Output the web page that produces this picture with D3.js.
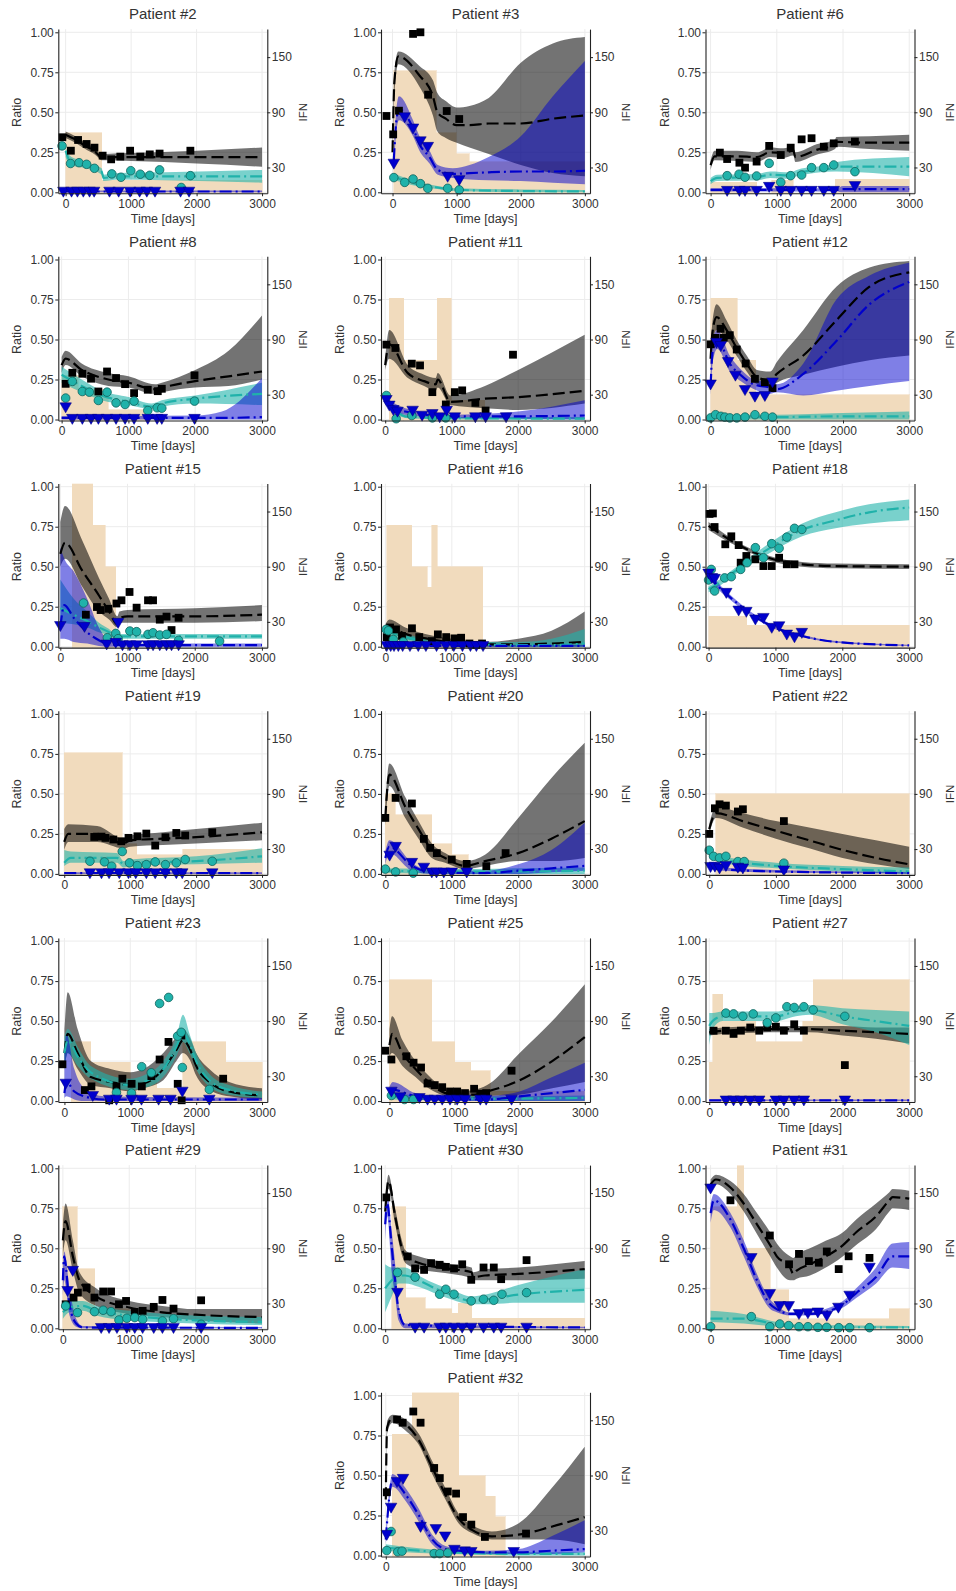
<!DOCTYPE html>
<html>
<head>
<meta charset="utf-8">
<script src="https://cdn.jsdelivr.net/npm/d3@7"></script>
<style>
  body { margin: 0; background: #fff; }
  text { font-family: "Liberation Sans", Arial, sans-serif; }
</style>
</head>
<body>
<div id="chart"></div>
<script>
// Patients shown, in panel order
var patients = [2, 3, 6, 8, 11, 12, 15, 16, 18, 19, 20, 22, 23, 25, 27, 29, 30, 31, 32];

// Tick values
var ratioTicks = [0, 0.25, 0.5, 0.75, 1];
var ifnTicks = [30, 90, 150];
var timeTicks = [0, 1000, 2000, 3000];

// left end of each time axis (days)
var timeStart = {2: -112, 3: -180, 6: -77, 8: -50, 11: -63, 12: -77, 15: -30, 16: -66, 18: -46, 19: -90,
  20: -65, 22: -56, 23: -93, 25: -130, 27: -56, 29: -69, 30: -63, 31: -77, 32: -72};

// IFN dose steps: [start day, end day, dose]
var ifnSteps = {
  2: [[0, 550, 67.5], [550, 3000, 16]],
  3: [[20, 680, 135], [680, 990, 67.5], [990, 1195, 45], [1195, 3000, 36]],
  6: [[0, 700, 14], [920, 1250, 16], [1880, 3000, 17]],
  8: [[0, 250, 51], [250, 700, 36], [700, 1300, 13.5]],
  11: [[60, 280, 135], [280, 780, 67.5], [780, 990, 135], [990, 1500, 24]],
  12: [[0, 400, 135], [400, 680, 67.5], [680, 3000, 30]],
  15: [[180, 480, 180], [480, 665, 135], [665, 825, 90]],
  16: [[20, 395, 135], [395, 630, 90], [630, 695, 67.5], [695, 780, 135], [780, 1465, 90]],
  18: [[0, 570, 36], [570, 3000, 26.5]],
  19: [[0, 880, 135], [880, 1100, 36], [1100, 1800, 24], [1800, 3000, 30]],
  20: [[0, 150, 90], [150, 700, 67.5], [700, 1000, 36], [1000, 1250, 24]],
  22: [[100, 3000, 90]],
  23: [[100, 400, 67.5], [400, 1000, 45], [1000, 1400, 24], [1400, 1800, 17], [1800, 2450, 67.5], [2450, 3000, 45]],
  25: [[0, 650, 135], [650, 1000, 67.5], [1000, 1250, 45], [1250, 1550, 36], [1550, 3000, 13.5]],
  27: [[0, 50, 45], [50, 200, 119], [200, 700, 90], [700, 1400, 67.5], [1400, 1560, 90], [1560, 3000, 135]],
  29: [[0, 220, 135], [220, 480, 67.5], [480, 1000, 24]],
  30: [[100, 310, 135], [310, 600, 36], [600, 1000, 24], [1000, 1100, 19.5], [1100, 1300, 30], [1300, 3000, 14]],
  31: [[0, 400, 135], [400, 500, 180], [500, 900, 90], [900, 1180, 45], [1180, 2700, 13.5], [2700, 3000, 24]],
  32: [[100, 400, 135], [400, 1100, 180], [1100, 1500, 90], [1500, 1650, 67.5], [1650, 1800, 45]]
};

// model fits: [day, median, lower, upper]
var blackFit = {
  2: [[0,.36,.34,.38],[150,.33,.31,.35],[300,.29,.27,.31],[450,.255,.235,.275],[560,.215,.2,.23],[600,.22,.2,.24],[1000,.22,.195,.245],[2000,.22,.18,.26],[3000,.22,.16,.28]],
  3: [[0,.25,.22,.28],[30,.7,.62,.76],[90,.85,.8,.88],[420,.73,.66,.79],[630,.6,.48,.7],[700,.5,.38,.62],[830,.46,.34,.57],[1000,.42,.31,.53],[1200,.42,.28,.54],[1500,.43,.24,.59],[2000,.43,.17,.81],[2500,.46,.12,.93],[3000,.48,.1,.97]],
  6: [[0,.17,.14,.2],[60,.225,.2,.26],[400,.225,.195,.26],[700,.22,.19,.25],[900,.25,.22,.28],[1100,.245,.215,.275],[1250,.26,.23,.29],[1280,.22,.19,.25],[1600,.265,.235,.3],[1880,.3,.27,.33],[1900,.315,.285,.345],[2400,.31,.27,.35],[3000,.31,.26,.36]],
  8: [[0,.34,.29,.39],[60,.38,.34,.43],[300,.31,.27,.35],[700,.25,.21,.29],[1000,.23,.2,.27],[1400,.19,.16,.22],[1500,.2,.17,.23],[2000,.24,.2,.31],[2500,.27,.21,.43],[3000,.3,.25,.65]],
  11: [[0,.34,.31,.38],[60,.47,.38,.56],[340,.29,.26,.34],[585,.24,.21,.28],[760,.22,.18,.26],[790,.25,.2,.29],[980,.11,.09,.15],[1500,.13,.07,.21],[2000,.14,.06,.31],[3000,.18,.1,.53]],
  12: [[0,.38,.33,.45],[30,.55,.48,.62],[90,.64,.56,.72],[240,.56,.5,.62],[390,.45,.4,.5],[545,.35,.3,.4],[700,.265,.22,.31],[900,.245,.2,.3],[1000,.285,.23,.36],[1400,.4,.28,.56],[1900,.62,.33,.83],[2400,.83,.37,.95],[3000,.92,.4,.99]],
  15: [[0,.58,.5,.78],[70,.65,.55,.88],[320,.48,.38,.67],[575,.32,.22,.43],[725,.22,.17,.3],[850,.14,.12,.19],[880,.18,.15,.22],[1000,.19,.15,.23],[2000,.19,.15,.24],[3000,.2,.16,.26]],
  16: [[0,.1,.07,.14],[60,.12,.08,.17],[300,.08,.05,.12],[700,.045,.02,.07],[1000,.025,.01,.05],[1500,.015,0,.03],[2000,.015,0,.05],[2500,.02,0,.1],[3000,.03,0,.22]],
  18: [[0,.755,.73,.78],[390,.65,.635,.665],[890,.556,.54,.57],[1400,.515,.5,.53],[1900,.504,.49,.52],[3000,.5,.485,.515]],
  19: [[0,.2,.15,.28],[60,.25,.2,.31],[500,.25,.2,.3],[900,.19,.16,.22],[1000,.21,.17,.24],[1500,.22,.18,.26],[2000,.23,.19,.28],[3000,.26,.21,.32]],
  20: [[0,.35,.3,.45],[60,.62,.55,.69],[300,.42,.35,.48],[500,.28,.22,.33],[700,.15,.1,.19],[900,.1,.07,.13],[1200,.05,.03,.08],[1500,.08,.05,.12],[2000,.13,.08,.35],[2500,.22,.08,.6],[3000,.33,.1,.82]],
  22: [[0,.28,.25,.31],[100,.38,.35,.42],[500,.33,.29,.38],[1000,.27,.22,.33],[1500,.21,.16,.29],[2000,.15,.1,.25],[2500,.1,.06,.21],[3000,.06,.03,.17]],
  23: [[0,.3,.2,.45],[50,.42,.3,.68],[200,.3,.2,.45],[400,.15,.1,.25],[700,.12,.08,.2],[1000,.1,.06,.18],[1200,.11,.08,.2],[1500,.2,.13,.3],[1700,.32,.25,.4],[1800,.38,.3,.45],[1900,.33,.26,.4],[2000,.22,.16,.3],[2200,.12,.07,.2],[2500,.06,.03,.12],[3000,.035,.01,.08]],
  25: [[0,.35,.28,.45],[40,.42,.3,.53],[200,.3,.22,.38],[400,.2,.15,.25],[600,.12,.08,.16],[800,.06,.04,.09],[1000,.04,.02,.06],[1300,.04,.02,.07],[1500,.06,.03,.1],[2000,.13,.04,.3],[2500,.25,.08,.5],[3000,.4,.12,.73]],
  27: [[0,.43,.41,.45],[200,.44,.42,.46],[1000,.45,.43,.47],[1500,.45,.43,.47],[2000,.44,.41,.47],[2500,.43,.39,.46],[3000,.42,.36,.46]],
  29: [[0,.55,.45,.65],[40,.67,.55,.78],[150,.45,.36,.55],[250,.3,.22,.35],[500,.2,.14,.25],[1000,.13,.09,.17],[1500,.1,.07,.14],[2000,.085,.05,.12],[3000,.07,.03,.12]],
  30: [[0,.73,.7,.8],[50,.92,.87,.96],[150,.7,.65,.75],[250,.5,.46,.55],[300,.45,.41,.49],[500,.41,.37,.45],[800,.38,.35,.42],[1000,.37,.34,.4],[1300,.35,.31,.38],[1320,.32,.3,.35],[1500,.33,.3,.37],[2000,.34,.3,.38],[3000,.37,.31,.42]],
  31: [[0,.9,.87,.93],[80,.93,.9,.96],[300,.88,.84,.92],[500,.78,.73,.84],[700,.65,.59,.72],[900,.52,.45,.6],[1000,.45,.38,.53],[1200,.38,.3,.45],[1250,.34,.3,.44],[1300,.36,.31,.46],[1500,.4,.33,.5],[1700,.44,.37,.54],[2000,.52,.45,.6],[2200,.6,.52,.68],[2500,.7,.62,.78],[2700,.8,.73,.85],[2750,.82,.75,.87],[3000,.81,.74,.86]],
  32: [[0,.35,.3,.45],[20,.8,.76,.84],[100,.86,.83,.88],[300,.82,.78,.85],[500,.72,.69,.76],[700,.55,.51,.59],[900,.38,.35,.42],[1100,.23,.2,.26],[1300,.16,.14,.19],[1600,.12,.1,.15],[2000,.13,.1,.2],[2500,.18,.1,.42],[3000,.24,.07,.68]]
};

var tealFit = {
  2: [[0,.26,.22,.28],[60,.2,.17,.23],[300,.17,.15,.19],[550,.13,.11,.15],[580,.09,.07,.11],[800,.1,.08,.12],[1500,.1,.075,.125],[3000,.1,.06,.14]],
  3: [[0,.1,.08,.12],[300,.06,.045,.075],[700,.03,.02,.04],[1000,.015,.008,.025],[2000,.008,0,.018],[3000,.005,0,.015]],
  6: [[0,.07,.05,.09],[100,.09,.07,.11],[700,.095,.075,.115],[900,.11,.09,.13],[1200,.105,.085,.125],[1300,.12,.1,.14],[1880,.155,.13,.18],[1900,.16,.13,.19],[3000,.16,.1,.22]],
  8: [[0,.28,.23,.33],[300,.21,.17,.25],[600,.15,.12,.18],[1000,.11,.09,.14],[1350,.08,.065,.1],[1500,.1,.08,.12],[2000,.13,.1,.15],[3000,.16,.09,.23]],
  11: [[0,.14,.12,.16],[150,.06,.04,.08],[300,.02,.01,.03],[1000,.008,0,.015],[3000,.005,0,.015]],
  12: [[0,.02,0,.03],[1000,.015,0,.03],[2000,.02,0,.04],[3000,.02,0,.05]],
  15: [[0,.24,.15,.42],[200,.2,.14,.3],[400,.16,.12,.22],[575,.12,.09,.15],[725,.09,.07,.11],[825,.06,.05,.08],[900,.065,.05,.08],[3000,.065,.05,.08]],
  16: [[0,.1,.08,.12],[300,.06,.04,.08],[1000,.02,.01,.03],[2000,.01,0,.03],[2500,.01,0,.05],[3000,.02,0,.11]],
  18: [[0,.36,.34,.38],[90,.38,.36,.4],[390,.47,.45,.49],[890,.61,.58,.64],[1400,.73,.69,.77],[1900,.79,.74,.84],[2400,.84,.77,.89],[3000,.87,.79,.92]],
  19: [[0,.07,.05,.15],[100,.1,.07,.14],[800,.1,.07,.13],[900,.06,.04,.08],[1000,.07,.05,.09],[2000,.08,.06,.11],[3000,.11,.07,.16]],
  20: [[0,.02,.005,.035],[1000,.015,0,.03],[2000,.015,0,.035],[3000,.02,0,.04]],
  22: [[0,.12,.1,.14],[100,.1,.08,.12],[500,.07,.05,.09],[1000,.05,.035,.07],[2000,.03,.015,.05],[3000,.015,0,.04]],
  23: [[0,.3,.2,.4],[50,.38,.3,.45],[200,.28,.22,.34],[400,.18,.14,.22],[1000,.1,.07,.14],[1200,.12,.08,.16],[1500,.2,.15,.25],[1700,.34,.28,.4],[1800,.43,.37,.54],[1900,.36,.3,.42],[2000,.25,.2,.3],[2200,.13,.09,.17],[2500,.07,.04,.1],[3000,.04,.02,.06]],
  25: [[0,.03,.01,.05],[500,.02,.005,.035],[1500,.015,0,.03],[3000,.02,0,.035]],
  27: [[0,.47,.35,.55],[50,.5,.45,.55],[200,.53,.5,.56],[1000,.53,.5,.56],[1300,.56,.53,.59],[1500,.57,.54,.6],[2000,.53,.48,.58],[2500,.5,.43,.57],[3000,.47,.35,.56]],
  29: [[0,.1,.06,.15],[100,.13,.1,.17],[300,.14,.11,.17],[500,.11,.08,.14],[1000,.08,.05,.11],[2000,.05,.03,.08],[3000,.04,.02,.07]],
  30: [[0,.25,.1,.4],[100,.3,.2,.38],[200,.33,.28,.38],[300,.33,.28,.38],[500,.3,.26,.33],[800,.24,.21,.27],[1000,.21,.18,.24],[1300,.17,.15,.2],[1500,.18,.15,.21],[2000,.21,.16,.27],[3000,.24,.16,.37]],
  31: [[0,.06,.04,.11],[500,.06,.03,.09],[1000,.025,.01,.04],[1500,.01,0,.02],[3000,.005,0,.015]],
  32: [[0,.05,.03,.07],[500,.03,.015,.045],[1000,.02,.01,.03],[2000,.01,0,.02],[3000,.01,0,.02]]
};

var blueFit = {
  2: [[0,.005,0,.012],[1500,.005,0,.012],[3000,.005,0,.012]],
  3: [[20,.2,.15,.25],[60,.45,.38,.52],[100,.52,.45,.6],[320,.4,.35,.45],[420,.3,.26,.35],[577,.22,.18,.26],[706,.14,.11,.17],[940,.115,.09,.15],[1200,.12,.08,.17],[1500,.125,.075,.22],[2000,.13,.07,.35],[2500,.13,.06,.6],[3000,.135,.05,.82]],
  6: [[0,.015,.005,.025],[1900,.015,.005,.025],[2000,.02,0,.04],[3000,.02,0,.04]],
  8: [[0,.01,0,.02],[2000,.01,0,.025],[2400,.01,0,.05],[3000,.015,0,.26]],
  11: [[0,.12,.1,.14],[300,.05,.03,.07],[1000,.02,.01,.03],[2000,.02,.005,.05],[3000,.025,0,.12]],
  12: [[0,.21,.15,.28],[30,.42,.35,.5],[100,.5,.44,.56],[290,.35,.3,.4],[490,.265,.23,.3],[650,.22,.19,.25],[900,.2,.16,.23],[1000,.19,.17,.22],[1400,.285,.15,.35],[1900,.49,.18,.75],[2400,.72,.21,.9],[3000,.86,.24,.98]],
  15: [[0,.12,.05,.62],[60,.26,.05,.55],[200,.18,.03,.47],[400,.09,.02,.3],[575,.04,.005,.12],[725,.015,0,.04],[1000,.01,0,.02],[3000,.01,0,.02]],
  16: [[0,.005,0,.01],[1500,.005,0,.01],[3000,.005,0,.01]],
  18: [[0,.45,.43,.47],[140,.38,.36,.4],[390,.285,.27,.3],[890,.14,.13,.15],[1400,.067,.06,.075],[1900,.03,.025,.035],[3000,.008,.005,.012]],
  19: [[0,.005,0,.01],[1500,.005,0,.01],[3000,.005,0,.01]],
  20: [[0,.1,.06,.14],[60,.17,.13,.21],[400,.05,.02,.07],[700,.01,0,.02],[1500,.005,0,.02],[2000,.02,0,.06],[2500,.035,.01,.15],[3000,.05,.02,.32]],
  22: [[0,.04,.03,.05],[200,.03,.02,.04],[1000,.015,.008,.025],[3000,.005,0,.012]],
  23: [[0,.05,.02,.3],[30,.12,.03,.42],[150,.06,.01,.2],[300,.03,0,.08],[600,.01,0,.03],[3000,.01,0,.02]],
  25: [[0,.05,.03,.09],[50,.07,.04,.12],[400,.03,.01,.05],[1000,.01,0,.02],[1500,.01,0,.03],[2000,.03,0,.06],[2500,.05,0,.15],[3000,.07,0,.24]],
  27: [[0,.005,0,.01],[1500,.005,0,.01],[3000,.005,0,.01]],
  29: [[0,.3,.2,.4],[20,.45,.3,.48],[100,.15,.08,.25],[200,.03,.01,.06],[300,.005,0,.015],[3000,.003,0,.008]],
  30: [[0,.65,.55,.75],[30,.78,.7,.85],[100,.5,.35,.6],[150,.3,.2,.4],[200,.12,.05,.15],[300,.02,0,.03],[3000,.005,0,.01]],
  31: [[0,.72,.66,.78],[50,.8,.74,.84],[300,.68,.63,.72],[500,.5,.45,.55],[700,.3,.26,.34],[900,.15,.12,.18],[1000,.12,.1,.14],[1200,.09,.08,.1],[1500,.09,.08,.1],[1800,.11,.1,.13],[2000,.15,.13,.17],[2200,.22,.19,.25],[2500,.32,.28,.38],[2750,.45,.38,.53],[3000,.45,.37,.54]],
  32: [[0,.1,.07,.15],[100,.47,.43,.51],[300,.38,.34,.42],[500,.25,.21,.29],[700,.1,.07,.13],[900,.04,.02,.06],[1100,.03,.015,.045],[1500,.02,.01,.03],[2000,.02,.01,.04],[2500,.03,.01,.12],[3000,.04,.02,.22]]
};

// measurements: [day, ratio]
var blackObs = {
  2: [[-50,.344],[80,.26],[190,.327],[320,.302],[440,.279],[565,.229],[695,.206],[835,.223],[985,.26],[1140,.223],[1285,.237],[1435,.242],[1905,.26]],
  3: [[-95,.477],[10,.362],[100,.51],[320,.99],[435,1.0],[555,.61],[845,.508],[1040,.458]],
  6: [[140,.248],[250,.208],[435,.185],[520,.154],[695,.192],[885,.29],[1060,.233],[1210,.279],[1375,.331],[1525,.338],[1710,.285],[1860,.306],[2180,.317]],
  8: [[60,.223],[160,.292],[310,.286],[440,.255],[550,.175],[680,.3],[815,.259],[950,.221],[1085,.165],[1290,.186],[1440,.177],[1500,.192],[1990,.276]],
  11: [[18,.468],[154,.447],[400,.349],[524,.338],[709,.171],[912,.094],[1047,.171],[1158,.182],[1356,.104],[1510,.056],[1922,.405]],
  12: [[0,.47],[75,.51],[150,.567],[200,.51],[290,.527],[395,.4375],[530,.35],[670,.254],[820,.233],[935,.196]],
  15: [[380,.2],[545,.248],[600,.229],[715,.237],[835,.27],[910,.29],[1030,.342],[1135,.244],[1305,.29],[1380,.29],[1480,.169],[1580,.188],[1655,.104],[1760,.181]],
  16: [[20,.06],[70,.12],[160,.108],[250,.067],[400,.115],[510,.06],[700,.035],[790,.077],[915,.06],[1040,.052],[1140,.056],[1265,.02],[1365,.01],[1455,.02]],
  18: [[15,.83],[65,.833],[90,.748],[250,.64],[340,.69],[450,.635],[480,.525],[565,.567],[700,.546],[820,.504],[945,.504],[1055,.556],[1170,.515],[1285,.515]],
  19: [[455,.231],[565,.233],[625,.225],[745,.215],[865,.204],[975,.225],[1110,.235],[1245,.252],[1380,.177],[1535,.229],[1700,.256],[1835,.24],[2245,.26]],
  20: [[0,.35],[155,.475],[400,.44],[580,.219],[675,.1625],[775,.13],[1000,.09],[1225,.0625],[1520,.048],[1810,.13]],
  22: [[0,.25],[85,.41],[155,.435],[250,.427],[430,.39],[505,.404],[1120,.33]],
  23: [[-30,.23],[310,.069],[410,.092],[680,.005],[790,.092],[880,.14],[1020,.108],[1175,.092],[1320,.156],[1445,.26],[1580,.37],[1720,.108],[1775,.41],[1780,.005],[2410,.14]],
  25: [[-65,.315],[30,.26],[260,.28],[370,.24],[485,.21],[585,.11],[695,.1],[810,.087],[930,.06],[1040,.06],[1160,.05],[1300,.077],[1395,.046],[1485,.05],[1875,.19]],
  27: [[65,.44],[250,.44],[365,.42],[475,.44],[615,.46],[750,.44],[870,.46],[1000,.465],[1120,.44],[1275,.48],[1420,.44],[2035,.225]],
  29: [[42,.15],[161,.192],[226,.223],[357,.255],[476,.192],[607,.23],[726,.23],[845,.15],[952,.171],[1083,.102],[1202,.109],[1369,.134],[1500,.177],[1667,.123],[2083,.175]],
  30: [[18,.818],[339,.449],[450,.374],[585,.365],[690,.407],[819,.397],[912,.384],[1035,.374],[1158,.4],[1294,.303],[1479,.38],[1633,.38],[1744,.307],[2126,.426]],
  31: [[300,.8],[895,.58],[1185,.4],[1335,.465],[1485,.42],[1635,.41],[1755,.48],[1935,.37],[2085,.45],[2400,.44]],
  32: [[15,.395],[170,.85],[255,.83],[415,.9],[525,.83],[730,.547],[815,.484],[935,.4],[1060,.387],[1165,.24],[1290,.193],[1495,.116],[2115,.137]]
};

var tealObs = {
  2: [[-55,.29],[75,.18],[205,.185],[320,.175],[440,.15],[705,.115],[845,.094],[995,.135],[1140,.113],[1285,.106],[1435,.14],[1765,.03],[1905,.104]],
  3: [[20,.092],[190,.062],[320,.083],[435,.054],[550,.025],[860,.025],[1040,.015]],
  6: [[250,.104],[430,.113],[520,.094],[695,.102],[885,.181],[1060,.063],[1210,.104],[1375,.108],[1525,.154],[1710,.154],[1860,.171],[2180,.129]],
  8: [[60,.134],[160,.238],[310,.175],[415,.171],[550,.119],[680,.171],[815,.104],[950,.094],[1085,.115],[1290,.056],[1430,.073],[1500,.071],[1990,.115]],
  11: [[18,.15],[165,.005],[400,.025],[710,.01],[910,.01]],
  12: [[0,.01],[75,.03],[155,.02],[215,.015],[290,.01],[395,.01],[520,.015],[670,.03],[820,.02],[935,.015]],
  15: [[345,.273],[700,.056],[825,.083],[860,.05],[1035,.098],[1135,.094],[1305,.077],[1380,.087],[1480,.073],[1580,.077],[1760,.04],[2370,.035]],
  16: [[10,.108],[45,.1],[120,.045],[270,.03]],
  18: [[0,.417],[40,.483],[90,.348],[240,.43],[340,.4375],[480,.483],[575,.525],[700,.619],[820,.556],[945,.644],[1055,.615],[1170,.685],[1285,.74],[1395,.733]],
  19: [[390,.079],[610,.075],[720,.048],[880,.14],[990,.069],[1110,.052],[1245,.058],[1380,.075],[1535,.058],[1700,.069],[1835,.09],[2245,.079]],
  20: [[0,.03],[155,.0125],[420,.005]],
  22: [[0,.148],[65,.11],[155,.1],[250,.11],[430,.077],[525,.077],[1120,.067]],
  23: [[790,.054],[1018,.05],[1173,.215],[1318,.177],[1445,.61],[1582,.648],[1718,.406],[1773,.43],[1790,.21],[2200,.073]],
  25: [[30,.035],[230,.01],[370,.01]],
  27: [[250,.55],[365,.545],[505,.53],[660,.545],[870,.49],[1000,.52],[1165,.59],[1275,.585],[1420,.59],[1560,.57],[2035,.53]],
  29: [[42,.14],[220,.098],[476,.104],[607,.113],[726,.104],[845,.052],[964,.063],[1083,.067],[1202,.056],[1500,.046],[1667,.06],[2083,.025]],
  30: [[185,.349],[450,.32],[819,.213],[912,.244],[1035,.213],[1294,.171],[1479,.182],[1633,.175],[1756,.213],[2126,.223]],
  31: [[0,.01],[615,.073],[895,.01],[1045,.027],[1180,.017],[1335,.01],[1470,.01],[1620,.006],[1755,.006],[1935,.004],[2100,.004],[2400,.004]],
  32: [[15,.031],[80,.15],[180,.023],[245,.027],[730,.012],[815,.012],[935,.016]]
};

var blueObs = {
  2: [[-35,.005],[90,.005],[180,.005],[270,.005],[365,.005],[435,.005],[670,.005],[810,.005],[985,.005],[1130,.005],[1240,.005],[1365,.005],[1755,.005],[1885,.005]],
  3: [[20,.18],[190,.47],[320,.4],[435,.32],[550,.285],[860,.098],[1040,.077]],
  6: [[250,.01],[435,.01],[520,.01],[695,.01],[885,.035],[1060,.01],[1210,.01],[1375,.01],[1525,.01],[1710,.01],[1860,.01],[2180,.04]],
  8: [[60,.077],[160,.005],[310,.005],[440,.005],[550,.005],[680,.005],[815,.005],[950,.005],[1085,.005],[1290,.005],[1430,.005],[1500,.005],[1990,.005]],
  11: [[18,.123],[62,.088],[123,.06],[185,.05],[413,.056],[555,.025],[709,.035],[820,.015],[924,.056],[1047,.015],[1356,.015],[1510,.015],[1818,.015]],
  12: [[0,.22],[90,.48],[155,.46],[265,.36],[375,.275],[520,.185],[670,.144],[820,.148],[935,.233]],
  15: [[0,.13],[360,.125],[690,.015],[825,.025],[860,.15],[925,.01],[1035,.01],[1135,.01],[1305,.01],[1380,.01],[1480,.01],[1580,.01],[1655,.01],[1760,.01]],
  16: [[20,.005],[80,.005],[130,.005],[195,.005],[260,.005],[370,.005],[495,.005],[610,.005],[770,.005],[910,.005],[1030,.005],[1160,.005],[1280,.005],[1370,.005],[1470,.005]],
  18: [[0,.458],[50,.43],[90,.425],[265,.3375],[450,.227],[565,.219],[700,.171],[820,.181],[945,.119],[1055,.129],[1170,.077],[1285,.06],[1395,.0875]],
  19: [[390,.005],[565,.005],[680,.005],[835,.005],[975,.005],[1085,.005],[1245,.005],[1380,.005],[1535,.005],[1700,.005],[1790,.005],[2245,.005]],
  20: [[65,.115],[155,.17],[400,.07],[580,.04],[700,.01],[770,.01],[880,.01],[1000,.01],[1225,.01]],
  22: [[20,.044],[85,.046],[155,.035],[250,.05],[430,.04],[505,.035],[1120,.023]],
  23: [[20,.11],[430,.033],[680,.01],[790,.01],[1020,.01],[1170,.01],[1430,.01],[1610,.01],[1790,.06],[2200,.01]],
  25: [[30,.06],[165,.025],[460,.02],[585,.01],[695,.01],[810,.01],[930,.01],[1040,.01],[1160,.01],[1395,.01],[1485,.01],[1875,.01]],
  27: [[250,.005],[365,.005],[475,.005],[615,.005],[750,.005],[1000,.005],[1120,.005],[1275,.005],[1420,.005],[2035,.005]],
  29: [[71,.234],[149,.36],[577,.003],[696,.003],[815,.003],[964,.003],[1083,.003],[1202,.003],[1369,.003],[1500,.003],[1667,.003],[2083,.003]],
  30: [[185,.223],[450,.005],[585,.005],[819,.005],[912,.005],[1035,.005],[1158,.005],[1294,.005],[1479,.005],[1633,.005],[1744,.005],[2126,.005]],
  31: [[0,.875],[615,.44],[895,.215],[1045,.14],[1180,.14],[1335,.09],[1470,.095],[1620,.1],[1755,.08],[1930,.13],[2100,.205],[2400,.38]],
  32: [[15,.13],[80,.3],[170,.46],[260,.48],[525,.18],[755,.166],[895,.12],[1035,.037],[1190,.027],[1290,.023],[1930,.023]]
};

// page layout
var svgWidth = 956;
var svgHeight = 1591;
var colLeft = [58.3, 381, 705.5];
var plotW = 209, plotH = 160;
var rowTop = 32.3, rowStep = 227.2;
var tEnd = 3080;

var teal = "#20b2aa", blue = "#0000cd";

var svg = d3.select("#chart")
  .append("svg")
  .attr("width", svgWidth)
  .attr("height", svgHeight);

patients.forEach(function(p, i) {
  var row = Math.floor(i / 3), col = i % 3;
  if (i === 18) { row = 6; col = 1; }
  var left = colLeft[col];
  var top = rowTop + row * rowStep;
  var bottom = top + plotH;

  var x = d3.scaleLinear().domain([timeStart[p], tEnd]).range([left, left + plotW]);
  var y = d3.scaleLinear().domain([-0.006, 1.02]).range([bottom + 0.006 * plotH, top - 0.02 * plotH]);
  var yIfn = d3.scaleLinear().domain([3 - 0.006 * 174, 3 + 1.02 * 174]).range(y.range());

  var g = svg.append("g");
  var clipId = "clip" + p;
  g.append("clipPath").attr("id", clipId)
    .append("rect")
    .attr("x", left).attr("y", y(1.02))
    .attr("width", plotW).attr("height", y(-0.006) - y(1.02));

  var plot = g.append("g").attr("clip-path", "url(#" + clipId + ")");

  // grid
  plot.selectAll(".gx").data(timeTicks).enter().append("line")
    .attr("x1", d => x(d)).attr("x2", d => x(d))
    .attr("y1", y(1.02)).attr("y2", y(-0.006))
    .attr("stroke", "#ececec").attr("stroke-width", 1);
  plot.selectAll(".gy").data(ratioTicks).enter().append("line")
    .attr("x1", left).attr("x2", left + plotW)
    .attr("y1", d => y(d)).attr("y2", d => y(d))
    .attr("stroke", "#ececec").attr("stroke-width", 1);

  // IFN dose bars
  plot.append("g").attr("shape-rendering", "crispEdges")
    .selectAll("rect").data(ifnSteps[p]).enter().append("rect")
    .attr("x", d => x(d[0]))
    .attr("width", d => x(d[1]) - x(d[0]))
    .attr("y", d => yIfn(d[2]))
    .attr("height", d => yIfn(0) - yIfn(d[2]))
    .attr("fill", "#f1dbbd")
    .attr("stroke", "#f1dbbd").attr("stroke-width", 0.6);

  var area = d3.area().curve(d3.curveMonotoneX)
    .x(d => x(d[0])).y0(d => y(d[2])).y1(d => y(d[3]));
  var line = d3.line().curve(d3.curveMonotoneX)
    .x(d => x(d[0])).y(d => y(d[1]));

  plot.append("path").attr("d", area(blackFit[p])).attr("fill", "#000").attr("fill-opacity", 0.55);
  plot.append("path").attr("d", area(tealFit[p])).attr("fill", teal).attr("fill-opacity", 0.6);
  plot.append("path").attr("d", area(blueFit[p])).attr("fill", blue).attr("fill-opacity", 0.5);

  plot.append("path").attr("d", line(blackFit[p])).attr("fill", "none")
    .attr("stroke", "#000").attr("stroke-width", 2.2).attr("stroke-dasharray", "12,5");
  plot.append("path").attr("d", line(tealFit[p])).attr("fill", "none")
    .attr("stroke", teal).attr("stroke-width", 2.2).attr("stroke-dasharray", "12,4,2,4");
  plot.append("path").attr("d", line(blueFit[p])).attr("fill", "none")
    .attr("stroke", blue).attr("stroke-width", 2.2).attr("stroke-dasharray", "12,4,2,4");

  // markers
  g.selectAll(".sq").data(blackObs[p]).enter().append("rect")
    .attr("x", d => x(d[0]) - 3.9).attr("y", d => y(d[1]) - 3.9)
    .attr("width", 7.8).attr("height", 7.8)
    .attr("fill", "#000");
  g.selectAll(".ci").data(tealObs[p]).enter().append("circle")
    .attr("cx", d => x(d[0])).attr("cy", d => y(d[1])).attr("r", 4.3)
    .attr("fill", teal).attr("stroke", "#11625c").attr("stroke-width", 0.8);
  var tri = d3.symbol().type(d3.symbolTriangle).size(58);
  g.selectAll(".tr").data(blueObs[p]).enter().append("path")
    .attr("d", tri)
    .attr("transform", d => "translate(" + x(d[0]) + "," + (y(d[1]) - 1) + ") rotate(180)")
    .attr("fill", blue).attr("stroke", "#00007a").attr("stroke-width", 0.5);

  // axes
  var leftAxis = d3.axisLeft(y).tickValues(ratioTicks).tickFormat(d3.format(".2f"))
    .tickSize(3).tickSizeOuter(0).tickPadding(1.5);
  var rightAxis = d3.axisRight(yIfn).tickValues(ifnTicks).tickFormat(d3.format("d"))
    .tickSize(3).tickSizeOuter(0).tickPadding(1.5);
  var bottomAxis = d3.axisBottom(x).tickValues(timeTicks).tickFormat(d3.format("d"))
    .tickSize(3).tickSizeOuter(0).tickPadding(3);

  var axes = [
    g.append("g").attr("transform", "translate(" + left + ",0)").call(leftAxis),
    g.append("g").attr("transform", "translate(" + (left + plotW) + ",0)").call(rightAxis),
    g.append("g").attr("transform", "translate(0," + y(-0.006) + ")").call(bottomAxis)
  ];
  axes.forEach(function(a) {
    a.select(".domain").attr("stroke", "#222").attr("stroke-width", 1.1);
    a.selectAll(".tick line").attr("stroke", "#222");
    a.selectAll(".tick text").attr("fill", "#333")
      .style("font-size", "12px")
      .style("font-family", "'Liberation Sans', Arial, sans-serif");
  });

  // labels
  g.append("text")
    .attr("x", left + plotW / 2).attr("y", top - 13)
    .attr("text-anchor", "middle")
    .style("font-size", "15px").attr("fill", "#333")
    .text("Patient #" + p);
  g.append("text")
    .attr("transform", "translate(" + (left - 37) + "," + y(0.5) + ") rotate(-90)")
    .attr("text-anchor", "middle")
    .style("font-size", "12.5px").attr("fill", "#333")
    .text("Ratio");
  g.append("text")
    .attr("transform", "translate(" + (left + plotW + 39.5) + "," + y(0.5) + ") rotate(-90)")
    .attr("text-anchor", "middle")
    .style("font-size", "11.5px").attr("fill", "#333")
    .text("IFN");
  g.append("text")
    .attr("x", left + plotW / 2).attr("y", bottom + 30.5)
    .attr("text-anchor", "middle")
    .style("font-size", "12.5px").attr("fill", "#333")
    .text("Time [days]");
});
</script>
</body>
</html>
